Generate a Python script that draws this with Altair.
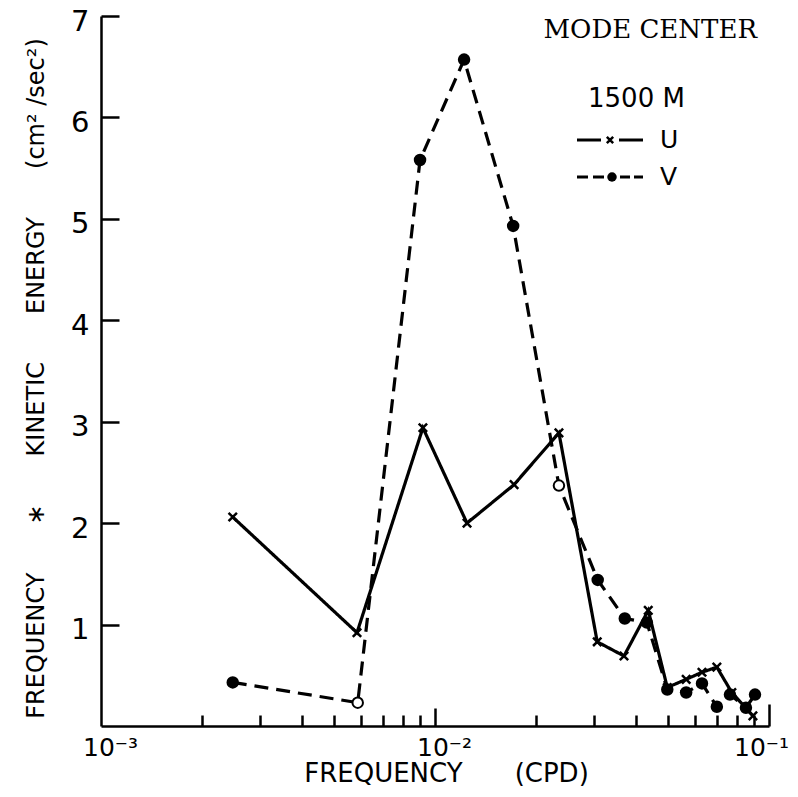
import altair as alt
import pandas as pd

# ---- data ----
series_names = ["U", "V"]
u_freq = [0.00248, 0.00584, 0.0092, 0.01247, 0.01725, 0.0235, 0.0306, 0.0368, 0.0435,
          0.0496, 0.0565, 0.0630, 0.0698, 0.0774, 0.0895]
u_ke = [2.06, 0.92, 2.94, 2.00, 2.38, 2.89, 0.83, 0.69, 1.14,
        0.38, 0.46, 0.53, 0.58, 0.33, 0.10]
v_freq = [0.00248, 0.00587, 0.00902, 0.01222, 0.01714, 0.0235, 0.0307, 0.0370, 0.0431,
          0.0496, 0.0565, 0.0630, 0.0698, 0.0764, 0.0853, 0.0908]
v_ke = [0.43, 0.23, 5.58, 6.57, 4.93, 2.37, 1.44, 1.06, 1.02,
        0.36, 0.33, 0.42, 0.19, 0.31, 0.18, 0.31]
v_hollow = [False, True, False, False, False, True, False, False, False,
            False, False, False, False, False, False, False]

x_major = [0.001, 0.01, 0.1]
x_ticks = [0.002, 0.003, 0.004, 0.005, 0.006, 0.007, 0.008, 0.009, 0.01,
           0.02, 0.03, 0.04, 0.05, 0.06, 0.07, 0.08, 0.09, 0.1]
y_ticks = [1, 2, 3, 4, 5, 6, 7]
x_domain = [0.001, 0.1]
y_domain = [0, 7]

x_title = "FREQUENCY\u2003\u2003(CPD)"
y_title = ("FREQUENCY\u2003\u2003∗\u2003\u2003KINETIC\u2003\u2003ENERGY"
           "\u2003\u2003(cm² /sec²)")
panel_title = "MODE CENTER"
legend_title = "1500 M"

rows = []
for f, k in zip(u_freq, u_ke):
    rows.append({"freq": f, "ke": k, "series": "U", "hollow": False})
for f, k, h in zip(v_freq, v_ke, v_hollow):
    rows.append({"freq": f, "ke": k, "series": "V", "hollow": h})
df = pd.DataFrame(rows)

FONT = "DejaVu Sans"
W, H = 668, 710

xscale = alt.Scale(type="log", domain=x_domain, nice=False)
yscale = alt.Scale(domain=y_domain, nice=False, zero=False)

x_label_axis = alt.Axis(
    orient="bottom", values=x_major, ticks=False, grid=False, domain=True,
    domainColor="black", domainWidth=2.5,
    labelExpr="datum.value < 0.005 ? '10⁻³' : (datum.value < 0.05 ? '10⁻²' : '10⁻¹')",
    labelFont=FONT, labelFontSize=25, labelColor="black", labelPadding=9,
    labelOffset={"condition": {"test": "datum.value > 0.05", "value": -8}, "value": 9},
    labelFlush=False, labelOverlap=False,
    title=x_title, titleFont=FONT, titleFontSize=26, titleFontWeight="normal",
    titleColor="black", titlePadding=0, titleX=345,
)
y_label_axis = alt.Axis(
    orient="left", values=y_ticks, ticks=False, grid=False, domain=True,
    domainColor="black", domainWidth=2.5,
    labelFont=FONT, labelFontSize=29, labelColor="black", labelPadding=12,
    labelOffset=5, labelFlush=False, labelOverlap=False,
    title=y_title, titleFont=FONT, titleFontSize=24, titleFontWeight="normal",
    titleColor="black", titlePadding=22, titleY=362,
)
x_tick_axis = alt.Axis(
    orient="top", offset=-H, values=x_ticks, labels=False, domain=False, grid=False,
    ticks=True, tickColor="black", tickWidth=2.5,
    tickSize={"condition": [{"test": "datum.value > 0.099", "value": 22},
                            {"test": "abs(datum.value - 0.01) < 0.0001", "value": 18}],
              "value": 11},
    title=None,
)
y_tick_axis = alt.Axis(
    orient="right", offset=-W, values=y_ticks, labels=False, domain=False, grid=False,
    ticks=True, tickColor="black", tickWidth=2.5, tickSize=18, title=None,
)

base = alt.Chart(df)

lines = base.mark_line(color="black", strokeWidth=3.2).encode(
    x=alt.X("freq:Q", scale=xscale, axis=x_label_axis),
    y=alt.Y("ke:Q", scale=yscale, axis=y_label_axis),
    strokeDash=alt.StrokeDash("series:N",
                              scale=alt.Scale(domain=series_names, range=[[1, 0], [14, 8]]),
                              legend=None),
    detail="series:N",
)

X_SHAPE = "M-1,-1L1,1M-1,1L1,-1"

u_pts = base.transform_filter("datum.series == 'U'").mark_point(
    shape=X_SHAPE, size=70, strokeWidth=2.5, color="black", filled=False, opacity=1,
).encode(
    x=alt.X("freq:Q", scale=xscale, axis=x_tick_axis),
    y=alt.Y("ke:Q", scale=yscale, axis=y_tick_axis),
)

v_pts = base.transform_filter("datum.series == 'V'").mark_point(
    shape="circle", size=110, strokeWidth=2, stroke="black", opacity=1, filled=True,
).encode(
    x=alt.X("freq:Q", scale=xscale, axis=None),
    y=alt.Y("ke:Q", scale=yscale, axis=None),
    fill=alt.condition("datum.hollow", alt.value("white"), alt.value("black")),
)

# ---- hand-placed key (top right, inside the plot) ----
one = alt.Data(values=[{"k": 1}])


def key_text(text, x, y, size, font=FONT, align="left", baseline="alphabetic"):
    return alt.Chart(alt.Data(values=[{"t": text}])).mark_text(
        font=font, fontSize=size, color="black", align=align, baseline=baseline,
    ).encode(text="t:N", x=alt.value(x), y=alt.value(y))


def key_rule(x1, x2, y, dash=None):
    kw = dict(color="black", strokeWidth=3)
    if dash:
        kw["strokeDash"] = dash
    return alt.Chart(one).mark_rule(**kw).encode(
        x=alt.value(x1), x2=alt.value(x2), y=alt.value(y))


key_u_mark = alt.Chart(one).mark_point(
    shape=X_SHAPE, size=40, strokeWidth=2.5, color="black", filled=False, opacity=1,
).encode(x=alt.value(509), y=alt.value(124))
key_v_mark = alt.Chart(one).mark_point(
    shape="circle", size=90, color="black", filled=True, opacity=1,
).encode(x=alt.value(511), y=alt.value(161))

key = [
    key_text(legend_title, 487, 91, 26),
    key_rule(476, 500, 124), key_rule(518, 542, 124), key_u_mark,
    key_text(series_names[0], 559, 124, 25, baseline="middle"),
    key_rule(476, 503, 161, [11, 5]), key_rule(519, 542, 161, [10, 4]), key_v_mark,
    key_text(series_names[1], 559, 161, 25, baseline="middle"),
    key_text(panel_title, 656, 22, 26, font="DejaVu Serif", align="right"),
]

chart = alt.layer(lines, u_pts, v_pts, *key).resolve_axis(
    x="independent", y="independent"
).properties(
    width=W, height=H,
    autosize=alt.AutoSizeParams(type="none"),
    padding={"left": 93, "top": 8, "right": 21, "bottom": 63},
    background="white",
).configure_view(stroke=None)

chart.save("out.html", embed_options={"renderer": "svg", "actions": False})
